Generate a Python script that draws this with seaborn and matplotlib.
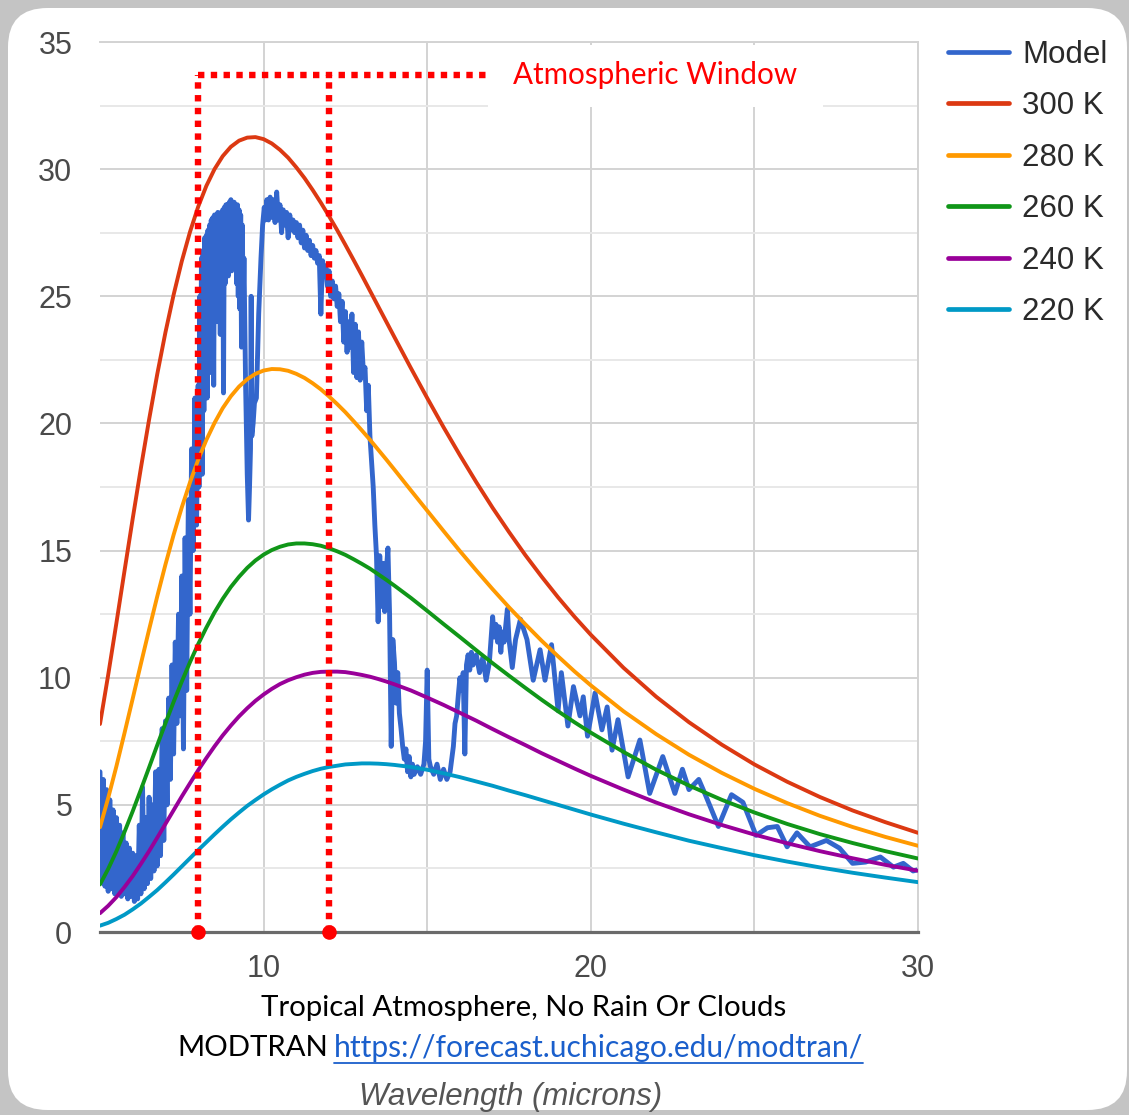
import matplotlib
matplotlib.use("Agg")
import matplotlib.pyplot as plt
from matplotlib.patches import FancyBboxPatch, Rectangle
from matplotlib.lines import Line2D
from matplotlib.ticker import MultipleLocator, FixedLocator
import seaborn as sns
import pandas as pd

# ---------------- data ----------------
wavelength_bb = [5.0, 5.25, 5.5, 5.75, 6.0, 6.25, 6.5, 6.75, 7.0, 7.25, 7.5, 7.75,
                 8.0, 8.25, 8.5, 8.75, 9.0, 9.25, 9.5, 9.75, 10.0, 10.25, 10.5, 10.75,
                 11.0, 11.25, 11.5, 11.75, 12.0, 12.25, 12.5, 12.75, 13.0, 13.25, 13.5, 13.75,
                 14.0, 14.5, 15.0, 15.5, 16.0, 16.5, 17.0, 17.5, 18.0, 18.5, 19.0, 19.5,
                 20, 21, 22, 23, 24, 25, 26, 27, 28, 29, 30]

bb_300 = [8.18, 10.11, 12.14, 14.21, 16.26, 18.25, 20.15, 21.94, 23.58, 25.06, 26.38, 27.53,
          28.52, 29.34, 30.00, 30.51, 30.88, 31.12, 31.24, 31.26, 31.18, 31.01, 30.76, 30.45,
          30.07, 29.65, 29.18, 28.68, 28.15, 27.60, 27.02, 26.43, 25.83, 25.22, 24.61, 24.00,
          23.39, 22.18, 21.00, 19.85, 18.75, 17.69, 16.68, 15.73, 14.82, 13.97, 13.16, 12.40,
          11.69, 10.39, 9.25, 8.25, 7.37, 6.59, 5.91, 5.31, 4.78, 4.32, 3.90]
bb_280 = [4.12, 5.27, 6.51, 7.83, 9.18, 10.55, 11.89, 13.20, 14.45, 15.62, 16.70, 17.68,
          18.57, 19.35, 20.02, 20.60, 21.07, 21.45, 21.74, 21.95, 22.08, 22.14, 22.13, 22.07,
          21.95, 21.79, 21.58, 21.34, 21.06, 20.76, 20.44, 20.09, 19.73, 19.36, 18.97, 18.58,
          18.18, 17.37, 16.57, 15.77, 14.98, 14.22, 13.48, 12.77, 12.10, 11.45, 10.84, 10.25,
          9.70, 8.68, 7.78, 6.97, 6.26, 5.63, 5.07, 4.57, 4.13, 3.74, 3.39]
bb_260 = [1.87, 2.48, 3.17, 3.94, 4.75, 5.60, 6.47, 7.35, 8.21, 9.05, 9.85, 10.61,
          11.32, 11.97, 12.57, 13.10, 13.57, 13.97, 14.32, 14.61, 14.84, 15.02, 15.15, 15.24,
          15.28, 15.28, 15.25, 15.19, 15.09, 14.97, 14.83, 14.66, 14.48, 14.29, 14.07, 13.85,
          13.62, 13.14, 12.63, 12.11, 11.60, 11.08, 10.57, 10.08, 9.60, 9.13, 8.68, 8.25,
          7.84, 7.08, 6.38, 5.76, 5.20, 4.70, 4.25, 3.85, 3.50, 3.18, 2.89]
bb_240 = [0.74, 1.03, 1.37, 1.77, 2.20, 2.68, 3.18, 3.71, 4.25, 4.79, 5.33, 5.85,
          6.36, 6.84, 7.30, 7.73, 8.12, 8.48, 8.80, 9.09, 9.34, 9.56, 9.75, 9.90,
          10.02, 10.12, 10.19, 10.23, 10.24, 10.24, 10.22, 10.17, 10.11, 10.04, 9.95, 9.85,
          9.74, 9.50, 9.22, 8.93, 8.62, 8.31, 7.98, 7.66, 7.35, 7.03, 6.73, 6.43,
          6.14, 5.60, 5.09, 4.63, 4.21, 3.83, 3.49, 3.18, 2.90, 2.64, 2.41]
bb_220 = [0.25, 0.36, 0.51, 0.68, 0.89, 1.12, 1.38, 1.65, 1.95, 2.26, 2.58, 2.90,
          3.22, 3.53, 3.84, 4.14, 4.43, 4.70, 4.96, 5.19, 5.41, 5.61, 5.79, 5.96,
          6.10, 6.22, 6.33, 6.42, 6.49, 6.54, 6.59, 6.61, 6.63, 6.63, 6.62, 6.60,
          6.57, 6.49, 6.38, 6.24, 6.09, 5.92, 5.75, 5.56, 5.38, 5.19, 5.00, 4.81,
          4.62, 4.26, 3.92, 3.59, 3.30, 3.02, 2.77, 2.54, 2.33, 2.14, 1.96]

model_x = [
    5.00, 5.05, 5.10, 5.15, 5.20, 5.25, 5.30, 5.35, 5.40, 5.45,
    5.50, 5.55, 5.60, 5.65, 5.70, 5.75, 5.80, 5.85, 5.90, 5.95,
    6.00, 6.05, 6.10, 6.15, 6.20, 6.25, 6.30, 6.35, 6.40, 6.45,
    6.50, 6.55, 6.60, 6.65, 6.70, 6.75, 6.80, 6.85, 6.90, 6.95,
    7.00, 7.05, 7.10, 7.15, 7.20, 7.25, 7.30, 7.35, 7.40, 7.45,
    7.50, 7.55, 7.60, 7.65, 7.70,
    7.75, 7.80, 7.85, 7.90, 7.95, 8.00,
    8.025, 8.050, 8.075, 8.100, 8.125, 8.150, 8.175, 8.200, 8.225, 8.250,
    8.275, 8.300, 8.325, 8.350, 8.375, 8.400, 8.425, 8.450, 8.475, 8.500,
    8.525, 8.550, 8.575, 8.600, 8.625, 8.650, 8.675, 8.700, 8.725, 8.750,
    8.775, 8.800, 8.825, 8.850, 8.875, 8.900, 8.925, 8.950, 8.975, 9.000,
    9.025, 9.050, 9.075, 9.100, 9.125, 9.150, 9.175, 9.200, 9.225, 9.250,
    9.275, 9.300, 9.325, 9.350, 9.375, 9.400,
    9.45, 9.50, 9.54, 9.57, 9.60, 9.62, 9.64, 9.68, 9.72, 9.78, 9.85, 9.92, 9.97,
    10.02, 10.05, 10.10, 10.15, 10.20, 10.25, 10.30, 10.35, 10.40, 10.45,
    10.50, 10.55, 10.60, 10.65, 10.70, 10.75, 10.80, 10.85, 10.90, 10.95,
    11.00, 11.05, 11.10, 11.15, 11.20, 11.25, 11.30, 11.35, 11.40, 11.45,
    11.50, 11.55, 11.60, 11.65, 11.70, 11.75, 11.80, 11.85, 11.90, 11.95,
    12.00, 12.05, 12.10, 12.15, 12.20, 12.25, 12.30, 12.35, 12.40, 12.45,
    12.50, 12.55, 12.60, 12.65, 12.70, 12.75, 12.80, 12.85, 12.90, 12.95,
    13.00, 13.05, 13.10,
    13.15, 13.20, 13.25, 13.30, 13.35, 13.40, 13.45, 13.50, 13.55, 13.60,
    13.65, 13.70, 13.75, 13.80, 13.85, 13.90, 13.95, 14.00, 14.05, 14.10,
    14.15, 14.20, 14.25, 14.30, 14.35, 14.40, 14.45, 14.50, 14.55, 14.60,
    14.70, 14.80, 14.90, 14.95, 15.00, 15.05, 15.10, 15.20, 15.30, 15.40,
    15.50, 15.60, 15.70,
    15.75, 15.80, 15.85, 15.90, 15.95, 16.00, 16.05, 16.10, 16.15, 16.20,
    16.25, 16.30, 16.35, 16.40, 16.50, 16.60, 16.70, 16.80, 16.90, 17.00,
    17.05, 17.10, 17.15, 17.20, 17.25, 17.30, 17.35, 17.45, 17.50, 17.60,
    17.70, 17.85, 18.05, 18.24, 18.45, 18.60, 18.80, 19.00, 19.10, 19.30,
    19.47, 19.67, 19.77, 19.90, 20.13, 20.34, 20.50, 20.65, 20.83, 21.14,
    21.50, 21.80, 22.20, 22.57, 22.80, 23.00, 23.30, 23.50, 23.90, 24.30,
    24.65, 25.05, 25.40, 25.70, 26.00, 26.30, 26.70, 27.20, 27.60, 28.00,
    28.40, 28.85, 29.25, 29.55, 29.85, 30.00,
]
model_y = [
    6.3, 2.0, 6.0, 1.8, 5.6, 1.6, 5.2, 1.7, 4.8, 1.5,
    4.5, 1.6, 4.2, 1.4, 3.9, 1.5, 3.5, 1.3, 3.3, 1.4,
    3.1, 1.2, 3.0, 1.3, 4.2, 1.5, 5.7, 1.7, 4.5, 1.9,
    5.3, 2.1, 5.0, 2.4, 6.3, 2.6, 6.4, 3.0, 8.0, 3.6,
    8.3, 5.0, 9.2, 6.0, 10.5, 7.0, 11.4, 8.2, 12.5, 8.5,
    14.0, 7.2, 15.5, 9.5, 17.0,
    12.5, 19.0, 15.0, 21.0, 16.0, 21.5,
    17.5, 25.0, 19.0, 26.5, 18.0, 26.8, 20.5, 27.3, 22.5, 27.4,
    21.0, 27.6, 23.5, 27.8, 22.0, 28.0, 24.0, 28.1, 21.5, 28.2,
    25.0, 28.2, 24.0, 28.3, 25.5, 28.2, 23.5, 28.3, 25.0, 28.4,
    21.2, 28.5, 25.5, 28.6, 26.0, 28.6, 25.8, 28.7, 26.3, 28.8,
    26.0, 28.7, 26.5, 28.7, 26.2, 28.6, 25.5, 28.6, 25.0, 28.4,
    24.5, 28.2, 23.0, 27.8, 24.5, 26.5,
    21.5, 18.0, 16.2, 17.5, 19.0, 25.0, 19.5, 20.0, 20.8, 21.0, 24.3, 26.5, 27.8,
    28.5, 28.0, 28.8, 28.0, 28.9, 28.1, 28.8, 27.9, 29.1, 28.0,
    28.6, 27.5, 28.4, 27.8, 28.3, 27.3, 28.2, 27.6, 28.0, 27.5,
    27.9, 27.3, 27.8, 27.1, 27.6, 26.9, 27.4, 26.8, 27.2, 26.6,
    27.0, 26.5, 26.8, 26.3, 26.6, 24.3, 26.4, 25.8, 26.2, 25.4,
    26.0, 25.0, 25.6, 24.9, 25.4, 24.6, 25.1, 24.0, 24.8, 23.2,
    24.4, 22.8, 24.0, 23.0, 24.3, 22.0, 23.9, 21.8, 23.6, 21.7,
    23.2, 22.0, 22.2,
    20.5, 21.5, 19.5, 18.5, 17.5, 16.0, 14.8, 12.2, 14.8, 12.8,
    14.5, 12.6, 14.2, 15.1, 12.5, 7.3, 11.5, 10.6, 9.0, 10.2,
    8.6, 8.0, 7.3, 6.8, 7.2, 6.3, 6.9, 6.1, 6.6, 6.2,
    6.5, 6.2, 6.6, 7.5, 10.3, 6.8, 6.5, 6.2, 6.6, 6.0,
    6.4, 6.0, 6.3,
    6.8, 7.3, 8.2, 8.5, 9.3, 10.0, 9.5, 10.2, 7.0, 10.5,
    10.9, 10.3, 11.0, 10.5, 10.9, 10.2, 10.8, 9.9, 10.6, 12.4,
    11.6, 12.1, 11.4, 12.0, 11.0, 11.8, 11.4, 12.7, 11.5, 10.4,
    11.5, 12.3, 11.5, 9.9, 11.1, 9.9, 11.3, 8.7, 10.2, 8.1,
    9.65, 8.5, 9.25, 7.7, 9.4, 7.95, 8.85, 7.15, 8.35, 6.1,
    7.55, 5.45, 6.9, 5.45, 6.4, 5.6, 6.0, 5.4, 4.15, 5.4,
    5.1, 3.8, 4.1, 4.15, 3.35, 3.9, 3.35, 3.6, 3.3, 2.7,
    2.75, 2.95, 2.55, 2.7, 2.4, 2.45,
]

series_labels = ["Model", "300 K", "280 K", "260 K", "240 K", "220 K"]
series_colors = ["#3366cc", "#dc3912", "#ff9900", "#109618", "#990099", "#0099c6"]
y_ticks = [0, 5, 10, 15, 20, 25, 30, 35]
x_ticks = [10, 20, 30]
window_edges = [8, 12]
window_top = 33.7
window_label = "Atmospheric Window"
caption_1 = "Tropical Atmosphere, No Rain Or Clouds"
caption_2a = "MODTRAN"
caption_2b = "https://forecast.uchicago.edu/modtran/"
x_title = "Wavelength (microns)"

# ---------------- figure ----------------
sns.set_theme(style="white")
plt.rcParams["font.family"] = ["Liberation Sans", "DejaVu Sans"]

W, H = 1129, 1115
fig = plt.figure(figsize=(W / 100, H / 100), dpi=100, facecolor="#c4c4c4")
card = FancyBboxPatch((8 / W, 1 - 1110 / H), (1127 - 8) / W, (1110 - 8) / H,
                      boxstyle="round,pad=0,rounding_size=0.035",
                      transform=fig.transFigure, facecolor="white", edgecolor="none", zorder=0)
fig.add_artist(card)

ax = fig.add_axes([100 / W, 1 - 932 / H, 818 / W, 890 / H])
ax.set_facecolor("white")

bb_df = pd.DataFrame({
    "wl": wavelength_bb * 5,
    "val": bb_300 + bb_280 + bb_260 + bb_240 + bb_220,
    "curve": sum([[lab] * len(wavelength_bb) for lab in series_labels[1:]], []),
})
model_df = pd.DataFrame({"wl": model_x, "val": model_y})

sns.lineplot(data=model_df, x="wl", y="val", color=series_colors[0], linewidth=3.5,
             estimator=None, sort=False, ax=ax, zorder=2)
sns.lineplot(data=bb_df, x="wl", y="val", hue="curve", hue_order=series_labels[1:],
             palette=dict(zip(series_labels[1:], series_colors[1:])), linewidth=2.8,
             estimator=None, sort=False, legend=False, ax=ax, zorder=3)

ax.set_xlim(5, 30)
ax.set_ylim(0, 35)
ax.set_xlabel("")
ax.set_ylabel("")

ax.xaxis.set_major_locator(FixedLocator(x_ticks))
ax.xaxis.set_minor_locator(FixedLocator([15, 25]))
ax.yaxis.set_major_locator(FixedLocator(y_ticks))
ax.yaxis.set_minor_locator(MultipleLocator(2.5))
ax.set_axisbelow(True)
ax.grid(which="major", axis="both", color="#d3d3d3", lw=1.4)
ax.grid(which="minor", axis="x", color="#d3d3d3", lw=1.4)
ax.grid(which="minor", axis="y", color="#e8e8e8", lw=1.4)
ax.tick_params(which="both", length=0)
ax.tick_params(axis="y", pad=20, labelsize=22, labelcolor="#4a4a4a")
ax.tick_params(axis="x", pad=16, labelsize=22, labelcolor="#4a4a4a")
ax.set_yticklabels([str(v) for v in y_ticks])
ax.set_xticklabels([str(v) for v in x_ticks])

ax.spines["left"].set_visible(False)
for side in ["top", "right"]:
    ax.spines[side].set_color("#d3d3d3")
    ax.spines[side].set_linewidth(1.4)
ax.spines["bottom"].set_color("#6a6a6a")
ax.spines["bottom"].set_linewidth(2.3)
ax.spines["bottom"].set_zorder(4)

# atmospheric window
win_kw = dict(color="#ff0000", lw=4.6, linestyle=(0, (1, 1)), zorder=5, solid_capstyle="butt")
for xe in window_edges:
    ax.plot([xe, xe], [0, window_top], **win_kw)
ax.plot([window_edges[0], 16.9], [window_top, window_top], **win_kw)
ax.plot(window_edges, [0, 0], linestyle="none", marker="o", ms=9.5, color="#ff0000",
        clip_on=False, zorder=6)
ax.add_patch(Rectangle((16.86, 32.45), 10.25, 2.42, facecolor="white", edgecolor="none", zorder=4))
ax.text(17.62, window_top, window_label, color="#ff0000", fontsize=21.3,
        family=["Lato", "DejaVu Sans"], ha="left", va="center", zorder=6)

# legend
handles = [Line2D([], [], color=c, lw=3.4) for c in series_colors]
fig.legend(handles, series_labels, loc="upper left", bbox_to_anchor=(948 / W, 1 - 40 / H),
           frameon=False, fontsize=22.5, handlelength=1.95, handletextpad=0.42,
           labelspacing=0.685, borderpad=0, borderaxespad=0, labelcolor="#2a2a2a")

# captions
fig.text(524 / W, 1 - 1008 / H, caption_1, ha="center", va="center", fontsize=21.2,
         family=["Lato", "DejaVu Sans"], color="black")
t_a = fig.text(328 / W, 1 - 1048 / H, caption_2a, ha="right", va="center", fontsize=21.2,
               family=["Lato", "DejaVu Sans"], color="black")
t_b = fig.text(334 / W, 1 - 1048 / H, caption_2b, ha="left", va="center", fontsize=21.6,
               family=["Lato", "DejaVu Sans"], color="#1a5fcc")
fig.text(511 / W, 1 - 1097 / H, x_title, ha="center", va="center", fontsize=22.5,
         style="italic", color="#555555")

fig.canvas.draw()
bb = t_b.get_window_extent()
fig.add_artist(Line2D([bb.x0 / W, bb.x1 / W], [1 - 1063 / H, 1 - 1063 / H],
                      transform=fig.transFigure, color="#1a5fcc", lw=1.3))

fig.savefig("out.png", dpi=100, facecolor=fig.get_facecolor())
